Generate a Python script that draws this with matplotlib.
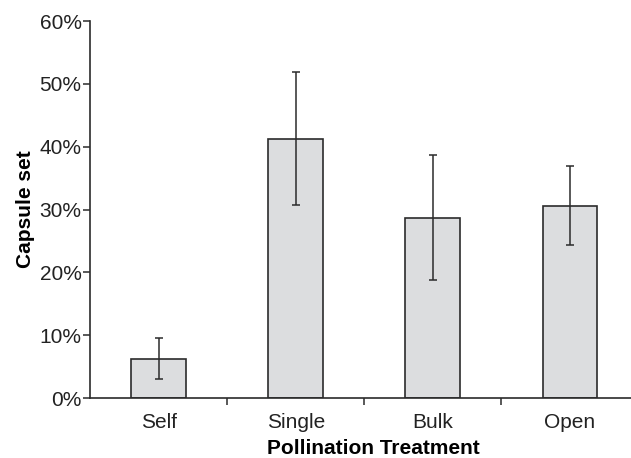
import matplotlib
matplotlib.use("Agg")
import matplotlib.pyplot as plt
from matplotlib.ticker import FixedLocator, NullFormatter

# data
treatments = ["Self", "Single", "Bulk", "Open"]
capsule_set = [6.2, 41.2, 28.7, 30.6]
err_high = [9.5, 51.9, 38.7, 36.9]
err_low = [3.0, 30.7, 18.8, 24.4]
yticks = [0, 10, 20, 30, 40, 50, 60]

plt.rcParams['font.family'] = ['Liberation Sans', 'DejaVu Sans']

yerr = [[v - lo for v, lo in zip(capsule_set, err_low)],
        [hi - v for v, hi in zip(capsule_set, err_high)]]

fig = plt.figure(figsize=(6.31, 4.58), dpi=100)
ax = fig.add_axes([0.1426, 0.131, 0.8574, 0.823])

x = list(range(len(treatments)))
ax.bar(x, capsule_set, width=0.4, color="#dcdddf", edgecolor="#2b2b2b", linewidth=1.2)
ax.errorbar(x, capsule_set, yerr=yerr, fmt="none", ecolor="#2b2b2b",
            elinewidth=1.1, capsize=3, capthick=1.1)

ax.set_xlim(-0.5, 3.445)
ax.set_ylim(0, 60)
ax.set_yticks(yticks)
ax.set_yticklabels([f"{t}%" for t in yticks])

ax.set_xticks(x)
ax.set_xticklabels(treatments)
ax.tick_params(axis="x", which="major", length=0, pad=11)
ax.xaxis.set_minor_locator(FixedLocator([0.5, 1.5, 2.5]))
ax.xaxis.set_minor_formatter(NullFormatter())
ax.tick_params(axis="x", which="minor", length=5, width=1.1, color="#2b2b2b")
ax.tick_params(axis="y", length=5, width=1.1, color="#2b2b2b", pad=1)
ax.tick_params(labelsize=15, labelcolor="#222222")

for s in ["top", "right"]:
    ax.spines[s].set_visible(False)
for s in ["left", "bottom"]:
    ax.spines[s].set_linewidth(1.2)
    ax.spines[s].set_color("#2b2b2b")

ax.set_xlabel("Pollination Treatment", fontsize=15, fontweight="bold", labelpad=5)
ax.xaxis.label.set_x(0.523)
ax.set_ylabel("Capsule set", fontsize=15, fontweight="bold", labelpad=3)

fig.savefig("out.png", dpi=100)
